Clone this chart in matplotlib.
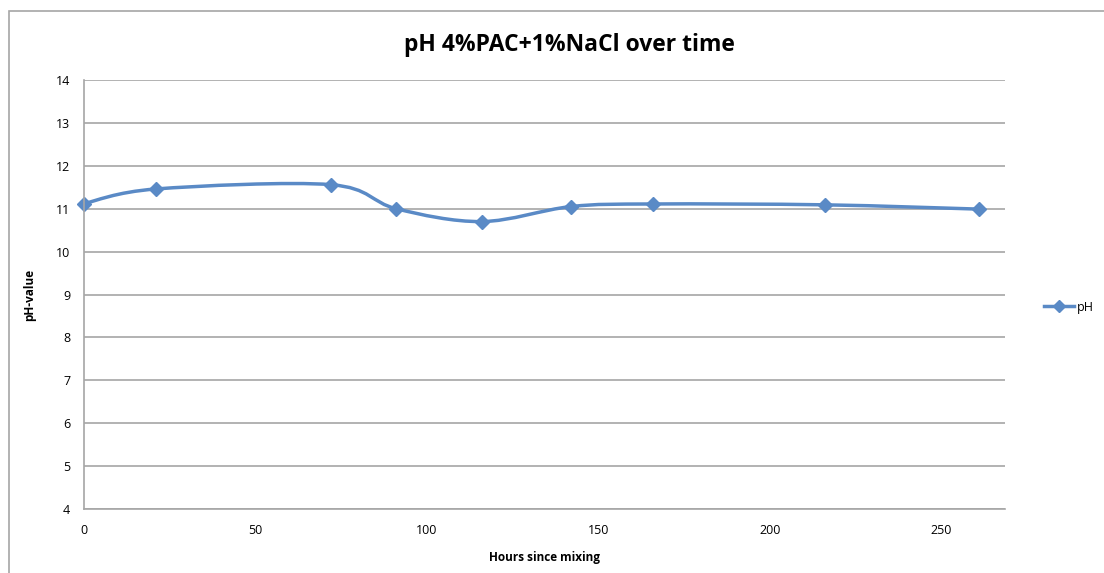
import matplotlib.pyplot as plt
import numpy as np
from matplotlib.patches import Rectangle
from matplotlib.path import Path
from matplotlib.patches import PathPatch

# Mesures de pH dans le temps
heures = [0, 21, 72, 91, 116, 142, 166, 216, 261]
ph = [11.12, 11.46, 11.56, 11.0, 10.70, 11.05, 11.11, 11.09, 10.99]

bleu = '#5A8AC6'
gris = '#A6A6A6'


def courbe_lissee(x, y):
    '''Chemin de Bezier qui passe par tous les points (lissage type tableur).'''
    pts = np.column_stack([x, y]).astype(float)
    n = len(pts)
    verts = [pts[0]]
    codes = [Path.MOVETO]
    for i in range(n - 1):
        p0 = pts[i - 1] if i > 0 else pts[i]
        p1 = pts[i]
        p2 = pts[i + 1]
        p3 = pts[i + 2] if i + 2 < n else pts[i + 1]
        c1 = p1 + (p2 - p0) / 6
        c2 = p2 - (p3 - p1) / 6
        verts += [c1, c2, p2]
        codes += [Path.CURVE4] * 3
    return Path(verts, codes)


fig = plt.figure(figsize=(11.04, 5.73), dpi=100)
plt.rcParams['font.family'] = ['Open Sans', 'DejaVu Sans']

# cadre du graphique
fig.patches.append(Rectangle((9 / 1104, -0.1), 1.2, 1 - 11 / 573 + 0.1, transform=fig.transFigure,
                             fill=False, edgecolor=gris, linewidth=1.2))

ax = fig.add_axes([84 / 1104, 1 - 509 / 573, (1005 - 84) / 1104, (509 - 80) / 573])
ax.set_xlim(0, 268.5)
ax.set_ylim(4, 14)
ax.set_xticks(range(0, 251, 50))
ax.set_yticks(range(4, 15))
ax.grid(axis='y', color=gris, linewidth=1.2)
ax.set_axisbelow(True)
for cote in ['top', 'right']:
    ax.spines[cote].set_visible(False)
ax.spines['left'].set_color(gris)
ax.spines['bottom'].set_color(gris)
ax.spines['left'].set_linewidth(1.2)
ax.spines['bottom'].set_linewidth(1.2)
ax.tick_params(axis='x', length=0, labelsize=9, pad=11)
ax.tick_params(axis='y', length=0, labelsize=9, pad=10)

ax.add_patch(PathPatch(courbe_lissee(heures, ph), fill=False, edgecolor=bleu, linewidth=2.5,
                       capstyle='round'))
ax.plot(heures, ph, linestyle='none', marker='D', markersize=7, color=bleu, clip_on=False)
ax.plot([], [], color=bleu, linewidth=2.5, marker='D', markersize=6, label='pH')

# titre centré sur le cadre, pas sur la zone de tracé
fig.text(569 / 1104, 1 - 45 / 573, 'pH 4%PAC+1%NaCl over time', fontsize=16.5, fontweight='bold',
         ha='center', va='center')
ax.set_xlabel('Hours since mixing', fontsize=8.5, fontweight='bold', labelpad=10)
ax.set_ylabel('pH-value', fontsize=8.5, fontweight='bold', labelpad=14)
ax.legend(loc='center left', bbox_to_anchor=(1.03, 0.47), frameon=False, fontsize=9,
          handlelength=2.4, handletextpad=0.2)

plt.savefig('out.png', dpi=100)
plt.close()
